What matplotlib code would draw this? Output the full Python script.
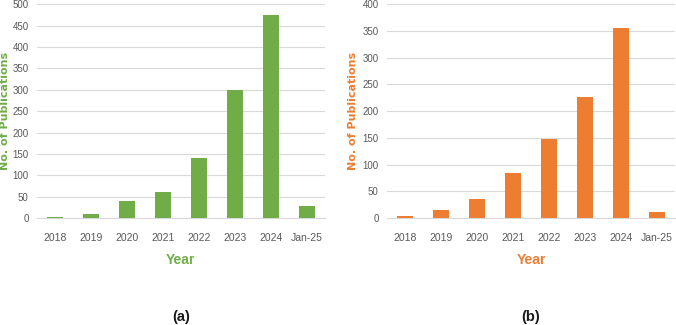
import matplotlib
matplotlib.use('Agg')
import matplotlib.pyplot as plt
import numpy as np

years = ['2018', '2019', '2020', '2021', '2022', '2023', '2024', 'Jan-25']
pubs_a = [3, 10, 40, 62, 140, 300, 475, 29]
pubs_b = [3, 16, 36, 85, 148, 227, 355, 12]

green = '#70AD47'
orange = '#ED7D31'
grey_text = '#595959'
tick_font = ['Liberation Sans Narrow', 'Liberation Sans']

fig = plt.figure(figsize=(6.76, 3.25), dpi=100)

panels = [
    (0.0547, pubs_a, green, 500, '(a)', -0.092),
    (0.5725, pubs_b, orange, 400, '(b)', -0.100),
]

for left, vals, col, ymax, tag, ylab_x in panels:
    ax = fig.add_axes([left, 0.329, 0.426, 0.658])
    x = np.arange(len(years))
    ax.bar(x, vals, width=0.42, color=col, zorder=3)
    ax.set_xlim(-0.5, len(years) - 0.5)
    ax.set_ylim(0, ymax)
    ax.set_yticks(np.arange(0, ymax + 1, 50))
    ax.set_xticks(x)
    ax.set_xticklabels(years)
    ax.grid(axis='y', color='#D9D9D9', linewidth=0.8, zorder=0)
    for s in ['top', 'right', 'left']:
        ax.spines[s].set_visible(False)
    ax.spines['bottom'].set_color('#D9D9D9')
    ax.tick_params(length=0, labelsize=7.5, labelcolor=grey_text)
    ax.tick_params(axis='x', pad=11)
    ax.tick_params(axis='y', pad=6, labelsize=7)
    for lab in ax.get_xticklabels() + ax.get_yticklabels():
        lab.set_family(tick_font)
    ax.set_ylabel('No. of Publications', color=col, fontsize=8,
                  fontweight='bold')
    ax.yaxis.set_label_coords(ylab_x, 0.5)
    ax.set_xlabel('Year', color=col, fontsize=10, fontweight='bold',
                  family=tick_font)
    ax.xaxis.set_label_coords(0.5, -0.165)
    # panel tag under each chart
    fig.text(left + 0.213, 0.025, tag, ha='center', va='center',
             fontsize=10.5, fontweight='bold', family='Liberation Sans',
             color='#1a1a1a')

fig.savefig('out.png', dpi=100)
